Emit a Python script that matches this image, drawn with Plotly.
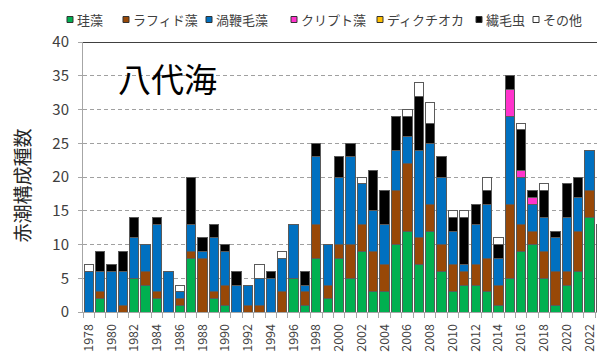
import plotly.graph_objects as go

# Red-tide constituent species counts in the Yatsushiro Sea, by year and group
years = list(range(1978, 2024))

diatoms = [0, 2, 0, 0, 5, 4, 2, 0, 1, 8, 0, 2, 1, 0, 0, 0, 0, 0, 5, 1, 8, 2, 8, 5, 9, 3,
           3, 10, 12, 7, 12, 6, 3, 4, 4, 3, 1, 5, 9, 10, 5, 1, 4, 6, 14, 13]
raphidophytes = [0, 1, 0, 1, 0, 2, 1, 0, 1, 1, 8, 1, 3, 0, 1, 1, 0, 3, 0, 2, 5, 2, 2, 5, 4, 6,
                 4, 8, 10, 4, 4, 4, 4, 2, 3, 5, 3, 11, 4, 2, 4, 5, 2, 6, 4, 0]
dinoflagellates = [6, 3, 6, 5, 6, 4, 10, 6, 1, 4, 1, 8, 5, 4, 3, 4, 5, 5, 8, 1, 10, 6, 10, 13, 6, 6,
                   6, 6, 4, 13, 9, 10, 5, 1, 6, 8, 4, 13, 7, 4, 5, 5, 8, 5, 6, 0]
cryptophytes = [0] * 37 + [4, 1, 1] + [0] * 6
dictyochophytes = [0] * 46
ciliates = [0, 3, 1, 3, 3, 0, 1, 0, 0, 7, 2, 2, 1, 2, 0, 0, 1, 0, 0, 2, 2, 0, 3, 2, 0, 6,
            5, 5, 3, 8, 3, 3, 2, 7, 3, 2, 2, 2, 6, 1, 4, 1, 5, 3, 0, 0]
others = [1, 0, 0, 0, 0, 0, 0, 0, 1, 0, 0, 0, 0, 0, 0, 2, 0, 1, 0, 0, 0, 0, 0, 0, 1, 0,
          0, 0, 1, 2, 3, 0, 1, 1, 0, 2, 1, 0, 1, 0, 1, 0, 0, 0, 0, 0]

series_names = ["珪藻", "ラフィド藻", "渦鞭毛藻", "クリプト藻", "ディクチオカ", "繊毛虫", "その他"]
series_values = [diatoms, raphidophytes, dinoflagellates, cryptophytes,
                 dictyochophytes, ciliates, others]
series_colors = ["#00B050", "#984807", "#0070C0", "#FF33CC", "#FFC000", "#000000", "#FFFFFF"]

y_tick_values = [0, 5, 10, 15, 20, 25, 30, 35, 40]
x_tick_values = list(range(1978, 2023, 2))
x_tick_labels = [str(y) for y in x_tick_values]

area_title = "八代海"
y_title = "赤潮構成種数"

# Page geometry (pixels)
W, H = 597, 352
ML, MR, MT, MB = 83, 0, 42, 40
PW, PH = W - ML - MR, H - MT - MB
X_START, X_END = 1977.5, 2022.66


def px_x(p):
    return (p - ML) / PW


def px_y(p):
    return (H - MB - p) / PH


JP = "Noto Sans CJK JP"

fig = go.Figure()
for name, vals, col in zip(series_names, series_values, series_colors):
    fig.add_trace(go.Bar(
        x=years, y=vals, name=name, showlegend=False,
        marker=dict(color=col, line=dict(color="#5a5a5a", width=1)),
    ))

# Legend row: small outlined swatches followed by the group names
legend_x = [70, 126, 209, 294, 380, 479, 536]
legend_yc = 19.5
shapes = []
annotations = []
for cx, name, col in zip(legend_x, series_names, series_colors):
    shapes.append(dict(
        type="rect", xref="paper", yref="paper",
        x0=px_x(cx - 3), x1=px_x(cx + 3), y0=px_y(legend_yc + 3), y1=px_y(legend_yc - 3),
        fillcolor=col, line=dict(color="#333333", width=1), layer="above",
    ))
    annotations.append(dict(
        text=name, xref="paper", yref="paper", x=px_x(cx + 5), y=px_y(legend_yc),
        xanchor="left", yanchor="middle", showarrow=False,
        font=dict(family=JP, size=13, color="#404040"),
    ))

# Solid top border of the plot area at the axis maximum
shapes.append(dict(type="line", xref="paper", yref="y", x0=0, x1=1, y0=40, y1=40,
                   line=dict(color="#000000", width=1.5), layer="above"))

annotations.append(dict(
    text=area_title, xref="paper", yref="paper", x=px_x(167), y=px_y(78),
    xanchor="center", yanchor="middle", showarrow=False,
    font=dict(family=JP, size=33, color="#000000"),
))
annotations.append(dict(
    text=y_title, xref="paper", yref="paper", x=px_x(20.5), y=px_y(186),
    xanchor="center", yanchor="middle", showarrow=False, textangle=-90,
    font=dict(family=JP, size=19, color="#262626"),
))

fig.update_layout(
    width=W, height=H,
    margin=dict(l=ML, r=MR, t=MT, b=MB, pad=0),
    paper_bgcolor="#FFFFFF", plot_bgcolor="#FFFFFF",
    barmode="stack", bargap=0.18,
    showlegend=False,
    shapes=shapes, annotations=annotations,
    font=dict(family=JP, color="#404040"),
    xaxis=dict(
        range=[X_START, X_END],
        tickmode="array", tickvals=x_tick_values, ticktext=x_tick_labels,
        tickangle=-90, ticks="", showgrid=False, zeroline=False,
        showline=True, linecolor="#A6A6A6", linewidth=1,
        tickfont=dict(family=JP, size=12.5, color="#404040"),
        ticklabelstandoff=6, ticklabeloverflow="allow",
        minor=dict(ticks="outside", tick0=1977.5, dtick=1, ticklen=5,
                   tickcolor="#A6A6A6", tickwidth=1, showgrid=False),
    ),
    yaxis=dict(
        range=[0, 40], tickmode="array", tickvals=y_tick_values,
        ticks="outside", ticklen=4, tickcolor="#A6A6A6",
        showline=True, linecolor="#A6A6A6", linewidth=1,
        showgrid=True, gridcolor="#A0A0A0", gridwidth=1.3, griddash="4px,3px",
        zeroline=False,
        tickfont=dict(family=JP, size=15, color="#404040"),
        ticklabelstandoff=6,
    ),
)

fig.write_html("out.html")
